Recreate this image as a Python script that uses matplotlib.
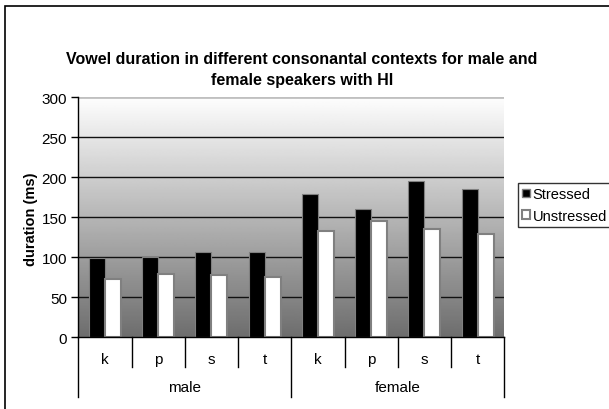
import numpy as np
import matplotlib.pyplot as plt
from matplotlib.patches import Patch, Rectangle

plt.rcParams['font.family'] = ['Liberation Sans', 'DejaVu Sans']

# данные
consonants = ['k', 'p', 's', 't', 'k', 'p', 's', 't']
groups = ['male', 'female']
stressed = [99, 100, 107, 107, 179, 160, 195, 186]
unstressed = [73, 79, 78, 75, 133, 145, 135, 129]

fig = plt.figure(figsize=(6.09, 4.10), dpi=100)
ax = fig.add_axes([78.3 / 609, 71.7 / 410, 426 / 609, 240 / 410])

x = np.arange(len(consonants))
ax.set_xlim(-0.5, len(consonants) - 0.5)
ax.set_ylim(0, 300)

# градиентный фон
grad = np.linspace(0.43, 0.995, 256).reshape(-1, 1)
ax.imshow(grad, extent=[-0.5, len(consonants) - 0.5, 0, 300], origin='lower',
          cmap='gray', vmin=0, vmax=1, aspect='auto', zorder=0)

# сетка
for v in range(50, 300, 50):
    ax.axhline(v, color='#111111', linewidth=1, zorder=1)
ax.axhline(300, color='#c0c0c0', linewidth=2, zorder=1)

w = 0.3
ax.bar(x - w / 2, stressed, w, color='black', edgecolor='#808080', linewidth=0.8,
       zorder=2, label='Stressed')
ax.bar(x + w / 2, unstressed, w, color='white', edgecolor='#808080', linewidth=1.5,
       zorder=2, label='Unstressed')

for s in ['top', 'right']:
    ax.spines[s].set_visible(False)
ax.spines['left'].set_linewidth(1)
ax.spines['bottom'].set_linewidth(1)

ax.set_yticks(range(0, 301, 50))
ax.tick_params(axis='y', direction='out', length=5, width=1, labelsize=11, pad=3)
ax.set_xticks([])

# многоуровневая подпись оси X
trans = ax.get_xaxis_transform()
for i in range(len(consonants) + 1):
    bottom = -0.25 if i % 4 == 0 else -0.125
    ax.plot([i - 0.5, i - 0.5], [0, bottom], color='black', linewidth=1,
            transform=trans, clip_on=False)
for i, c in enumerate(consonants):
    ax.text(i, -0.092, c, transform=trans, ha='center', va='center', fontsize=11)
for j, g in enumerate(groups):
    ax.text(j * 4 + 1.5, -0.208, g, transform=trans, ha='center', va='center',
            fontsize=11)

# заголовок и подписи
fig.text(302 / 609, 1 - 59 / 410,
         'Vowel duration in different consonantal contexts for male and',
         ha='center', va='center', fontsize=11.5, fontweight='bold')
fig.text(302 / 609, 1 - 81 / 410, 'female speakers with HI',
         ha='center', va='center', fontsize=11.5, fontweight='bold')
fig.text(31 / 609, 1 - 219 / 410, 'duration (ms)', rotation=90,
         ha='center', va='center', fontsize=10.5, fontweight='bold')

# легенда
handles = [Patch(facecolor='black', edgecolor='#808080', label='Stressed'),
           Patch(facecolor='white', edgecolor='#808080', linewidth=1.5,
                 label='Unstressed')]
leg = fig.legend(handles=handles, loc='upper left',
                 bbox_to_anchor=(518 / 609, 1 - 184 / 410), fontsize=10.5,
                 frameon=True, fancybox=False, borderaxespad=0,
                 handlelength=0.5, handleheight=0.5, handletextpad=0.2,
                 borderpad=0.3, labelspacing=0.5)
leg.get_frame().set_edgecolor('black')
leg.get_frame().set_linewidth(1)

# рамка области диаграммы
fig.patches.append(Rectangle((5 / 609, -0.1), 1.2, 1.1 - 7 / 410,
                             transform=fig.transFigure, fill=False,
                             edgecolor='black', linewidth=1.2))

fig.savefig('out.png', dpi=100)
